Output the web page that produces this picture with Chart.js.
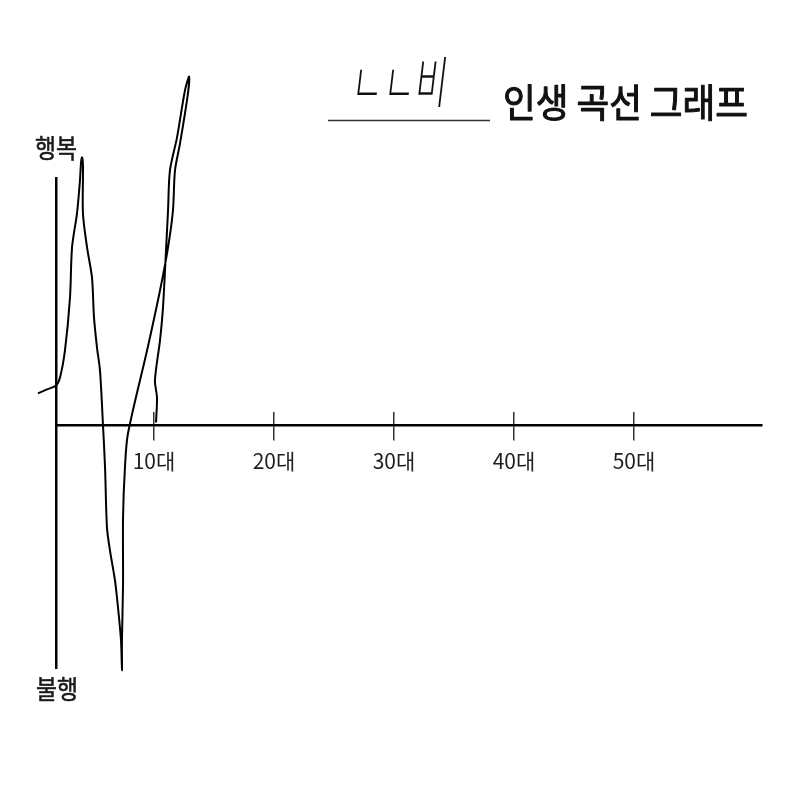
<!DOCTYPE html>
<html>
<head>
<meta charset="utf-8">
<script src="https://cdn.jsdelivr.net/npm/chart.js@4/dist/chart.umd.min.js"></script>
<style>
html,body{margin:0;padding:0;background:#fff;}
#wrap{width:800px;height:800px;}
</style>
</head>
<body>
<div id="wrap"><canvas id="c" width="800" height="800"></canvas></div>
<script>
// ---- data ----
const titleText = '인생 곡선 그래프';
const nameText = 'ㄴㄴ비';
const axisLabels = ['행복', '불행'];
const tickValues = [10, 20, 30, 40, 50];
const tickLabels = ['10대', '20대', '30대', '40대', '50대'];
// hand-drawn life curve: age (x) and happiness (y)
const ageValues = [
  0.33, 1.08, 1.83, 2.17, 2.58, 3.0, 3.17, 3.58, 3.83, 3.92, 4.0, 4.08, 4.08,
  4.42, 4.83, 5.0, 5.25, 5.5, 5.75, 5.92, 6.08, 6.33, 6.75, 7.0, 7.25, 7.33,
  7.33, 7.42, 7.42, 7.58, 7.83, 9.42, 10.5, 11.17, 11.58, 11.75, 12.17, 12.83,
  12.92, 12.58, 11.92, 11.33, 11.17, 11.0, 10.75, 10.5, 10.08, 10.25, 10.17
];
const happinessValues = [
  1.31, 1.47, 1.63, 1.96, 3.06, 5.22, 7.27, 8.65, 10.0, 10.73, 10.94, 10.61, 8.65,
  7.27, 6.04, 4.41, 3.18, 2.24, 0.0, -1.71, -4.16, -5.10, -6.33, -7.43, -8.78, -10.0,
  -8.78, -6.45, -3.76, -1.71, -0.33, 3.06, 5.51, 7.27, 8.78, 10.41, 11.51, 13.55,
  14.24, 13.67, 11.76, 10.41, 8.78, 7.14, 4.82, 3.47, 1.84, 1.14, 0.12
];

// ---- chart ----
const X_MIN = 1.8333, X_MAX = 60.6667;
const Y_MIN = -9.9, Y_MAX = 10.1;
const curve = ageValues.map((a, i) => ({x: a, y: happinessValues[i]}));
const setTicks = s => { s.ticks = tickValues.map(v => ({value: v})); };

function heavyText(ctx, text, x, y, maxW, w) {
  ctx.lineWidth = w;
  ctx.strokeStyle = ctx.fillStyle;
  ctx.lineJoin = 'round';
  ctx.strokeText(text, x, y, maxW);
  ctx.fillText(text, x, y, maxW);
}

const decor = {
  id: 'decor',
  afterDraw(chart) {
    const ctx = chart.ctx;
    const xs = chart.scales.x;
    const axisX = xs.getPixelForValue(X_MIN);
    const area = chart.chartArea;
    ctx.save();
    ctx.fillStyle = '#1a1a1a';
    ctx.textAlign = 'center';
    ctx.textBaseline = 'middle';
    ctx.font = '26px "Noto Sans CJK KR"';
    heavyText(ctx, axisLabels[0], axisX, area.top - 30, 42, 0.6);
    heavyText(ctx, axisLabels[1], axisX + 1, area.bottom + 21, 42, 0.6);

    // title
    ctx.textAlign = 'left';
    ctx.font = '39px "Noto Sans CJK KR"';
    ctx.fillStyle = '#111';
    heavyText(ctx, titleText, 503, 102, 245, 1.1);

    // underline for the name
    ctx.strokeStyle = '#333';
    ctx.lineWidth = 1.5;
    ctx.beginPath();
    ctx.moveTo(328, 120.5);
    ctx.lineTo(490, 120.5);
    ctx.stroke();

    // handwritten name
    ctx.save();
    ctx.translate(352, 82);
    ctx.transform(1, 0, -0.12, 1, 0, 0);
    ctx.font = '300 56px "Noto Sans CJK KR"';
    ctx.fillStyle = '#111';
    ctx.fillText(nameText, 0, 0, 96);
    ctx.restore();
    ctx.restore();
  }
};

new Chart(document.getElementById('c'), {
  type: 'scatter',
  data: {
    datasets: [{
      data: curve,
      showLine: true,
      borderColor: '#000',
      borderWidth: 2,
      pointRadius: 0,
      tension: 0.3,
      clip: false,
      fill: false
    }]
  },
  options: {
    responsive: false,
    animation: false,
    events: [],
    layout: {padding: {left: 56, right: 38, top: 178, bottom: 132}},
    plugins: {legend: {display: false}, tooltip: {enabled: false}, title: {display: false}},
    scales: {
      x: {
        type: 'linear', axis: 'x', min: X_MIN, max: X_MAX, position: {y: 0},
        afterBuildTicks: setTicks,
        ticks: {
          callback: (v, i) => tickLabels[i],
          font: {family: '"Noto Sans CJK KR"', size: 21},
          color: '#1e1e1e', padding: 9, maxRotation: 0, autoSkip: false
        },
        grid: {drawOnChartArea: false, drawTicks: true, tickLength: 14, color: '#333', lineWidth: 1.5},
        border: {display: true, color: '#000', width: 2.5}
      },
      xUp: {
        type: 'linear', axis: 'x', min: X_MIN, max: X_MAX, position: {y: 0},
        afterBuildTicks: setTicks,
        ticks: {display: false},
        grid: {drawOnChartArea: false, drawTicks: true, tickLength: -13, color: '#333', lineWidth: 1.5},
        border: {display: false}
      },
      y: {
        type: 'linear', axis: 'y', min: Y_MIN, max: Y_MAX, position: {x: X_MIN},
        ticks: {display: false},
        grid: {drawOnChartArea: false, drawTicks: false},
        border: {display: true, color: '#000', width: 2.5}
      }
    }
  },
  plugins: [decor]
});
</script>
</body>
</html>
